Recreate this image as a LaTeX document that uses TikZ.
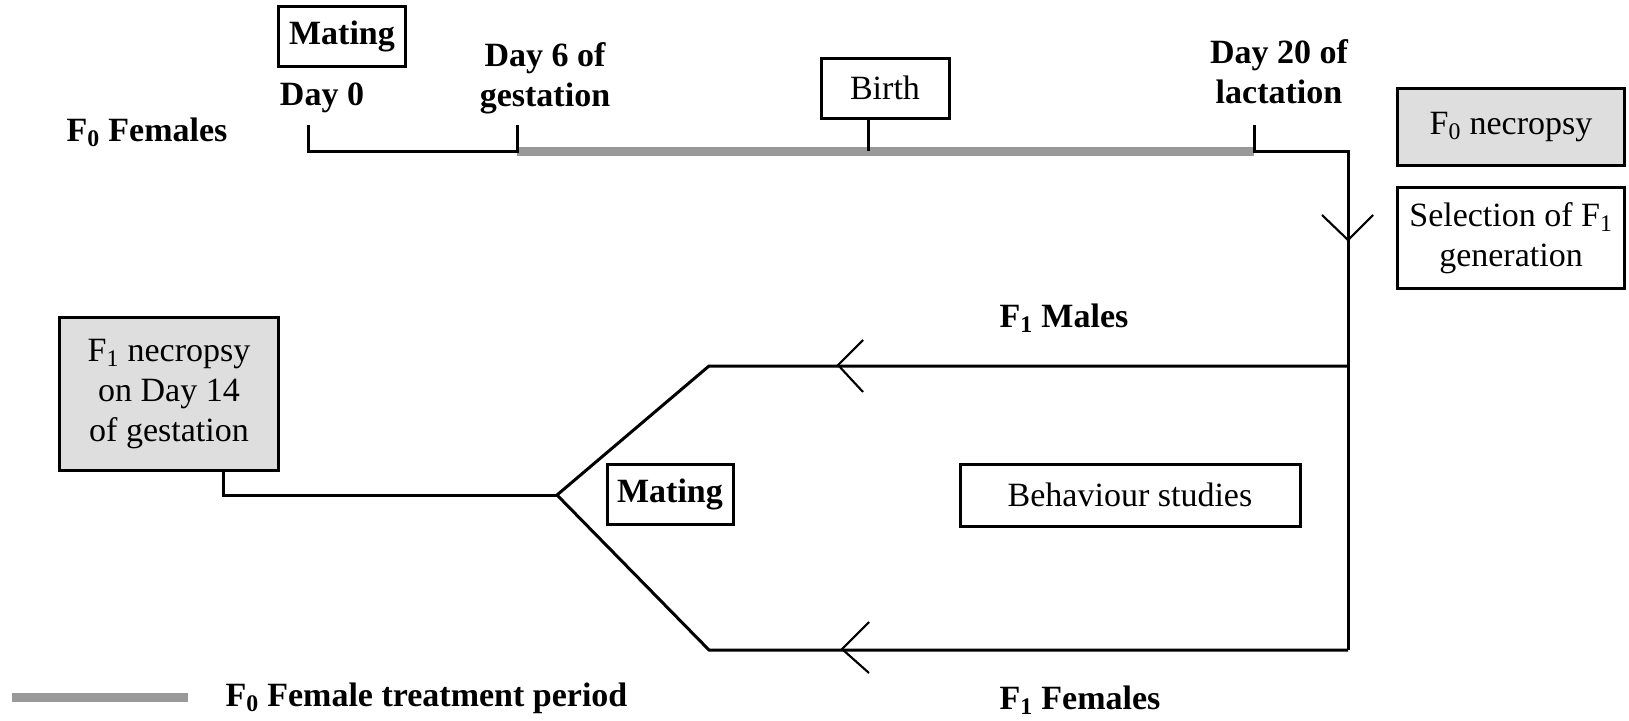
\documentclass[tikz,border=0pt]{standalone}
\usepackage{fontspec}
\setmainfont{Liberation Serif}

\definecolor{boxgrey}{RGB}{222,222,222}
\definecolor{bargrey}{RGB}{153,153,153}
\newcommand{\dfont}{\fontsize{25.5}{30}\selectfont}

\tikzset{every picture/.style={line width=2.25pt}}
\tikzset{
  plainbox/.style={draw, rectangle, inner sep=0pt, align=center, font=\dfont},
  greybox/.style={plainbox, fill=boxgrey},
  boldbox/.style={plainbox, font=\dfont\bfseries},
  lbl/.style={inner sep=0pt, align=center, font=\dfont\bfseries},
  arm/.style={line width=1.6pt},
  treatbar/.style={draw=bargrey, line width=6.75pt},
}

\begin{document}
\begin{tikzpicture}[x=0.75pt,y=0.75pt,yscale=-1,xscale=1]
%set diagram left start at 0, and has height of 721
\useasboundingbox (0,0) rectangle (1629,721);

% Boxes
\node[boldbox, minimum width=95pt, minimum height=45pt] (mate0) at (342,36) {Mating};
\node[plainbox, minimum width=96pt, minimum height=45pt] (birth) at (885,88) {Birth};
\node[greybox, minimum width=170pt, minimum height=58pt] (f0nec) at (1511,127) {F\textsubscript{0} necropsy};
\node[plainbox, minimum width=170pt, minimum height=76pt] (select) at (1511,238) {Selection of F\textsubscript{1}\\generation};
\node[greybox, minimum width=164pt, minimum height=115pt] (f1nec) at (169,394) {F\textsubscript{1} necropsy\\on Day 14\\of gestation};
\node[boldbox, minimum width=94.5pt, minimum height=45pt] (mate1) at (670,494) {Mating};
\node[plainbox, minimum width=255pt, minimum height=46.5pt] (behav) at (1130,495) {Behaviour studies};

% Text Node
\node[lbl] (f0fem) at (147,132) {F\textsubscript{0} Females};
\node[lbl] (day0) at (322,98) {Day 0};
\node[lbl] (day6) at (545,78) {Day 6 of\\gestation};
\node[lbl] (day20) at (1279,72) {Day 20 of\\lactation};
\node[lbl] (f1mal) at (1064,318) {F\textsubscript{1} Males};
\node[lbl] (f1fem) at (1080,700) {F\textsubscript{1} Females};
\node[lbl, anchor=west] (legtxt) at (224,698) {F\textsubscript{0} Female treatment period};

% Points of the time line
\coordinate (t0) at (308,125);
\coordinate (t6) at (517,125);
\coordinate (t20) at (1254,125);
\coordinate (bt) at (868,151);
\coordinate (rc) at (1348,151);
\coordinate (rm) at (1348,366);
\coordinate (rb) at (1348,650);
\coordinate (um) at (709,366);
\coordinate (lf) at (709,650);
\coordinate (split) at (557,495);
\coordinate (nk) at (223,495);

% Treatment period
\draw[treatbar] (t6 |- bt) -- (t20 |- bt);
% Straight Lines
\draw (t0) -- (t0 |- bt) -- (t6 |- bt) -- (t6);
\draw (birth.south -| bt) -- (bt);
\draw (t20) -- (t20 |- bt) -- (rc) -- (rb);
\draw (rm) -- (um) -- (split) -- (lf) -- (rb);
\draw (split) -- (nk) -- (nk |- f1nec.south);

% Arrow heads
\coordinate (ad) at (1348,240);
\coordinate (am) at (838,365);
\coordinate (af) at (842,649);
\draw[arm] (ad) ++(-26,-25) -- (ad) -- ++(25,-25);
\draw[arm] (am) ++(25,-25) -- (am) -- ++(25,27);
\draw[arm] (af) ++(27,-27) -- (af) -- ++(27,24);

% Legend
\coordinate (lg0) at (12,697);
\coordinate (lg1) at (188,697);
\draw[treatbar] (lg0) -- (lg1);

\end{tikzpicture}
\end{document}
